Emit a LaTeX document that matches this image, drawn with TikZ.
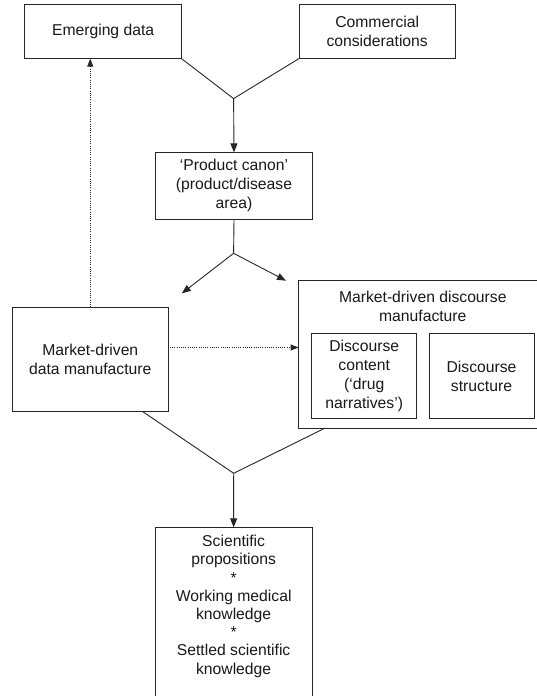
\documentclass[tikz,border=0pt]{standalone}
\usepackage{fontspec}
\setmainfont{Liberation Sans}
\usetikzlibrary{arrows.meta,calc}
\begin{document}
\begin{tikzpicture}[x=1pt,y=-1pt,
  every node/.style={inner sep=0pt,outer sep=0pt},
  txt/.style={align=center,font=\fontsize{15.7}{19}\selectfont,text=black!90},
  box/.style={draw=black!85,line width=0.9pt,txt},
  conn/.style={draw=black!85,line width=0.9pt},
  arr/.style={conn,-{Triangle[length=9pt,width=7pt]}},
  dotarr/.style={draw=black!85,line width=0.8pt,dash pattern=on 0.9pt off 1.3pt,-{Triangle[length=8pt,width=6pt]}}]
\useasboundingbox (0,0) rectangle (537,696);
\clip (0,0) rectangle (537,696);
\fill[white] (0,0) rectangle (537,696);

\node[box,minimum width=156.8pt,minimum height=53.8pt] (emerg) at (103.1,31.7) {Emerging data};
\node[box,minimum width=156.5pt,minimum height=53.8pt] (comm) at (377.2,31.7) {Commercial\\considerations};
\node[box,minimum width=156.5pt,minimum height=66.8pt] (canon) at (234,185.8) {`Product canon'\\(product/disease\\area)};
\node[box,minimum width=156.5pt,minimum height=104.8pt] (data) at (90.25,359.4) {Market-driven\\data manufacture};
\node[box,minimum width=248.4pt,minimum height=147.3pt] (disc) at (422.8,354.35) {};
\node[txt] (disctitle) at (422.8,306.5) {Market-driven discourse\\manufacture};
\node[box,minimum width=105.2pt,minimum height=84.2pt] (content) at (364.2,375.9) {Discourse\\content\\(`drug\\narratives')};
\node[box,minimum width=105pt,minimum height=84.2pt] (struct) at (481.5,375.9) {Discourse\\structure};
\node[box,minimum width=156.7pt,minimum height=192.7pt] (sci) at (233.65,623.65) {};
\node[txt,font=\fontsize{15.7}{18.2}\selectfont] (scitext) at (233.65,606.4) {Scientific\\propositions\\*\\Working medical\\knowledge\\*\\Settled scientific\\knowledge};

\coordinate (j1) at (233.6,98.6);
\coordinate (j2) at (233.6,253.3);
\coordinate (tipL) at (181.8,293.4);
\coordinate (tipR) at (286,280.7);
\coordinate (j3) at (233.7,473.3);
\coordinate (dl) at (0,347.5);

\draw[conn] (emerg.south east) -- (j1) -- (comm.south west);
\draw[arr] (j1) -- (canon.north);
\draw[conn] (canon.south) -- (j2);
\draw[arr] (j2) -- (tipL);
\draw[arr] (j2) -- (tipR);
\draw[dotarr] (data.north) -- (data.north |- emerg.south);
\draw[dotarr] ($(data.east |- dl)+(1.5,0)$) -- (disc.west |- dl);
\draw[conn] ($(data.south west)!0.837!(data.south east)$) -- (j3) -- ($(disc.south west)!0.107!(disc.south east)$);
\draw[arr] (j3) -- (sci.north);
\end{tikzpicture}
\end{document}
